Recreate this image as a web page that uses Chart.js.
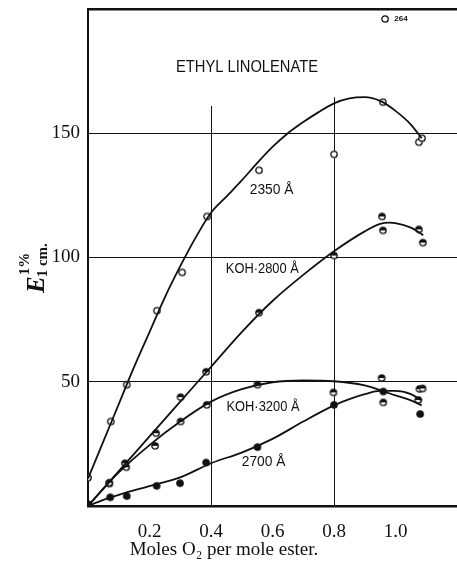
<!DOCTYPE html>
<html>
<head>
<meta charset="utf-8">
<script src="https://cdn.jsdelivr.net/npm/chart.js@4.4.1/dist/chart.umd.min.js"></script>
<style>
html, body { margin: 0; padding: 0; background: #fff; }
#c { display: block; }
</style>
</head>
<body>
<canvas id="c" width="457" height="566"></canvas>
<script>
// measured points (x = moles O2 per mole ester, y = E 1% 1 cm)
const x2350 = [0, 0.074, 0.126, 0.224, 0.306, 0.387, 0.556, 0.80, 0.959, 1.076, 1.086];
const y2350 = [11.4, 34.0, 48.8, 78.6, 94.0, 116.5, 135.1, 141.5, 162.5, 146.4, 148.0];

const x2800 = [0.069, 0.120, 0.221, 0.301, 0.384, 0.556, 0.80, 0.956, 0.959, 1.076, 1.089];
const y2800 = [9.4, 17.2, 29.3, 43.8, 54.0, 77.8, 100.8, 116.5, 110.9, 111.3, 106.0];

const x3200 = [0.069, 0.124, 0.218, 0.301, 0.386, 0.551, 0.798, 0.955, 0.960, 1.074, 1.078, 1.088];
const y3200 = [9.0, 15.6, 24.2, 34.0, 40.7, 48.8, 45.7, 51.5, 41.7, 42.7, 47.1, 47.3];

const x2700 = [0, 0.072, 0.126, 0.223, 0.299, 0.384, 0.551, 0.80, 0.96, 1.08];
const y2700 = [0.8, 3.5, 4.0, 8.1, 9.2, 17.5, 23.7, 40.7, 46.1, 37.0];

// off-scale reading, printed as 264 at the top
const xOff = [0.966];
const yOff = [196];

// the drawn smooth curves
const cx2350 = [0, 0.05, 0.1, 0.15, 0.2, 0.25, 0.3, 0.35, 0.4, 0.45, 0.5, 0.55, 0.6, 0.65, 0.7, 0.75, 0.8, 0.85, 0.9, 0.95, 1.0, 1.05, 1.085];
const cy2350 = [11, 26, 41, 56, 70, 84, 96.5, 108, 118, 124.5, 131, 138, 144.5, 150, 154.5, 158.5, 162, 164, 164.5, 163, 159, 153.5, 148];

const cx2800 = [0, 0.1, 0.2, 0.3, 0.4, 0.5, 0.6, 0.7, 0.8, 0.9, 0.95, 0.98, 1.0, 1.05, 1.09];
const cy2800 = [0, 14, 28, 42, 56, 70, 82.5, 93, 102.5, 110.5, 113.5, 114, 113.8, 112, 109];

const cx3200 = [0, 0.05, 0.1, 0.2, 0.3, 0.4, 0.5, 0.6, 0.7, 0.8, 0.9, 0.96, 1.0, 1.05, 1.085];
const cy3200 = [0, 7, 13.5, 24.5, 34, 42, 47, 49.8, 50.5, 50.2, 48.5, 46.2, 44.5, 42.5, 40.5];

const cx2700 = [0, 0.05, 0.1, 0.2, 0.3, 0.4, 0.5, 0.6, 0.7, 0.8, 0.85, 0.9, 0.95, 1.0, 1.05, 1.085];
const cy2700 = [0, 2.5, 4.5, 8, 11.5, 17.2, 21.5, 27, 34, 40.5, 43, 45, 46.3, 46.3, 45, 42.5];

const xTicks = [0.2, 0.4, 0.6, 0.8, 1.0];
const yTicks = [0, 50, 100, 150, 200];
const yLabels = [50, 100, 150];

const INK = '#111';

function pts(xs, ys) {
    return xs.map((x, i) => ({ x: x, y: ys[i] }));
}

// small marker images: open, top half dark, solid
function marker(kind) {
    const c = document.createElement('canvas');
    c.width = 10; c.height = 10;
    const g = c.getContext('2d');
    g.beginPath();
    g.arc(5, 5, 3.2, 0, Math.PI * 2);
    g.fillStyle = kind === 'dot' ? INK : '#fff';
    g.fill();
    if (kind === 'half') {
        g.beginPath();
        g.arc(5, 5, 3.2, Math.PI, Math.PI * 2);
        g.fillStyle = INK;
        g.fill();
    }
    g.lineWidth = 1.3;
    g.strokeStyle = INK;
    g.beginPath();
    g.arc(5, 5, 3.2, 0, Math.PI * 2);
    g.stroke();
    return c;
}

function curve(xs, ys) {
    return {
        type: 'line',
        data: pts(xs, ys),
        showLine: true,
        borderColor: INK,
        borderWidth: 1.8,
        pointRadius: 0,
        cubicInterpolationMode: 'monotone',
        fill: false
    };
}

function marks(xs, ys, kind) {
    return {
        data: pts(xs, ys),
        showLine: false,
        pointStyle: marker(kind),
        pointRadius: 4
    };
}

// the scan's frame: drop the label padding chart.js adds round the area
function noPad(s) {
    s.paddingTop = 0;
    s.paddingRight = 0;
    s.paddingBottom = 0;
    s.paddingLeft = 0;
}

// vertical rules only reach up to the curve region
const vRules = [{ x: 0.4, top: 161 }, { x: 0.8, top: 164.5 }];

const notes = [
    { text: 'ETHYL LINOLENATE', x: 0.517, y: 176.6, size: 16, sx: 0.92 },
    { text: '2350 Å', x: 0.597, y: 127.4, size: 15, sx: 0.92 },
    { text: 'KOH·2800 Å', x: 0.567, y: 95.2, size: 14, sx: 0.92 },
    { text: 'KOH·3200 Å', x: 0.569, y: 39.9, size: 14, sx: 0.92 },
    { text: '2700 Å', x: 0.571, y: 17.7, size: 15, sx: 0.92 },
    { text: '264', x: 1.018, y: 196, size: 8, sx: 1, bold: true }
];

const extras = {
    id: 'extras',
    beforeDatasetsDraw(chart) {
        const ctx = chart.ctx;
        const xs = chart.scales.x, ys = chart.scales.y;
        ctx.save();
        ctx.strokeStyle = INK;
        ctx.lineWidth = 1;
        vRules.forEach(r => {
            const px = Math.round(xs.getPixelForValue(r.x)) + 0.5;
            ctx.beginPath();
            ctx.moveTo(px, ys.getPixelForValue(r.top));
            ctx.lineTo(px, ys.getPixelForValue(0));
            ctx.stroke();
        });
        ctx.restore();
    },
    afterDraw(chart) {
        const ctx = chart.ctx;
        const xs = chart.scales.x, ys = chart.scales.y;
        ctx.save();
        ctx.fillStyle = INK;
        ctx.textAlign = 'center';
        ctx.textBaseline = 'middle';
        notes.forEach(n => {
            ctx.save();
            ctx.translate(xs.getPixelForValue(n.x), ys.getPixelForValue(n.y));
            ctx.scale(n.sx, 1);
            ctx.font = (n.bold ? 'bold ' : '') + n.size + 'px "Liberation Sans", Arial, sans-serif';
            ctx.fillText(n.text, 0, 0);
            ctx.restore();
        });

        // x axis title
        ctx.font = '19px "Liberation Serif", "Times New Roman", serif';
        ctx.fillText('Moles O₂ per mole ester.', 224, 550);

        // y axis title E 1% / 1 cm., turned on its side
        ctx.translate(44, 293);
        ctx.rotate(-Math.PI / 2);
        ctx.textAlign = 'left';
        ctx.textBaseline = 'alphabetic';
        ctx.font = 'italic bold 25px "Liberation Serif", serif';
        ctx.fillText('E', 0, 0);
        const w = ctx.measureText('E').width;
        ctx.font = 'bold 15px "Liberation Serif", serif';
        ctx.fillText('1%', w + 1, -15);
        ctx.fillText('1 cm.', w - 1, 3);
        ctx.restore();
    }
};

new Chart(document.getElementById('c'), {
    type: 'scatter',
    data: {
        datasets: [
            curve(cx2350, cy2350),
            curve(cx2800, cy2800),
            curve(cx3200, cy3200),
            curve(cx2700, cy2700),
            marks(x2350, y2350, 'open'),
            marks(x2800, y2800, 'half'),
            marks(x3200, y3200, 'half'),
            marks(x2700, y2700, 'dot'),
            marks(xOff, yOff, 'open')
        ]
    },
    options: {
        responsive: false,
        devicePixelRatio: 1,
        animation: false,
        layout: { autoPadding: false, padding: { top: 9, right: 0, left: 0, bottom: 0 } },
        plugins: {
            legend: { display: false },
            tooltip: { enabled: false }
        },
        scales: {
            x: {
                type: 'linear',
                min: 0,
                max: 1.2,
                afterBuildTicks: s => { s.ticks = xTicks.map(v => ({ value: v })); },
                afterFit: s => { s.height = 60; noPad(s); },
                grid: { display: false },
                border: { display: true, color: INK, width: 2.5 },
                ticks: {
                    padding: 7,
                    color: INK,
                    font: { family: '"Liberation Serif", "Times New Roman", serif', size: 19 },
                    callback: v => v.toFixed(1)
                }
            },
            y: {
                min: 0,
                max: 200,
                afterBuildTicks: s => { s.ticks = yTicks.map(v => ({ value: v })); },
                afterFit: s => { s.width = 88; noPad(s); },
                grid: {
                    color: INK,
                    drawTicks: false,
                    lineWidth: c => (c.tick && c.tick.value === 200 ? 2.5 : 1)
                },
                border: { display: true, color: INK, width: 2 },
                ticks: {
                    padding: 8,
                    color: INK,
                    font: { family: '"Liberation Serif", "Times New Roman", serif', size: 19 },
                    callback: v => (yLabels.includes(v) ? String(v) : '')
                }
            }
        }
    },
    plugins: [extras]
});
</script>
</body>
</html>
